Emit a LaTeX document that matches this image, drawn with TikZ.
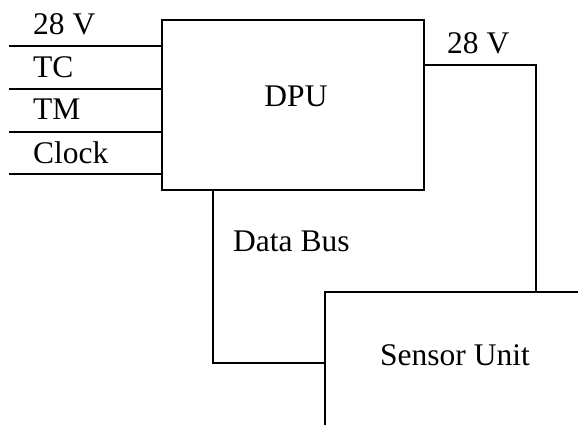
\documentclass[tikz,border=0pt]{standalone}
\usepackage{fontspec}
\setmainfont{Liberation Serif}
\begin{document}
\begin{tikzpicture}[x=1pt,y=-1pt,
  wire/.style={line width=2pt},
  lbl/.style={anchor=base west,inner sep=0pt,font=\fontsize{31.5}{37}\selectfont},
  box/.style={draw,line width=2pt,rectangle,inner sep=0pt,minimum width=262pt,minimum height=170pt}]
\useasboundingbox (0,0) rectangle (578,425);
% DPU box
\node[box] (dpu) at (293,105) {};
\node[lbl,anchor=base] (dpulbl) at (296,107) {DPU};
% left input wires
\coordinate (w1) at (9,46);
\coordinate (w2) at (9,89);
\coordinate (w3) at (9,132);
\coordinate (w4) at (9,174);
\draw[wire] (w1) -- (w1 -| dpu.west);
\draw[wire] (w2) -- (w2 -| dpu.west);
\draw[wire] (w3) -- (w3 -| dpu.west);
\draw[wire] (w4) -- (w4 -| dpu.west);
\node[lbl] (l28) at (33,35) {28 V};
\node[lbl] (ltc) at (33,78) {TC};
\node[lbl] (ltm) at (33,120) {TM};
\node[lbl] (lclk) at (33,163) {Clock};
% sensor unit (open box)
\coordinate (sul) at (325,425);
\coordinate (sutl) at (325,292);
\coordinate (sur) at (578,292);
\draw[wire] (sul) -- (sutl) -- (sur);
\node[lbl] (sulbl) at (380,365) {Sensor Unit};
% 28 V supply to sensor
\coordinate (pwr) at (536,65);
\coordinate (pwrdn) at (536,292);
\draw[wire] (pwr -| dpu.east) -- (pwr) -- (pwrdn);
\node[lbl] (r28) at (447,54) {28 V};
% data bus
\coordinate (dbtop) at (213,190);
\coordinate (dbcorner) at (213,363);
\draw[wire] (dbtop) -- (dbcorner) -- (dbcorner -| sutl);
\node[lbl] (dblbl) at (233,251) {Data Bus};
\end{tikzpicture}
\end{document}
